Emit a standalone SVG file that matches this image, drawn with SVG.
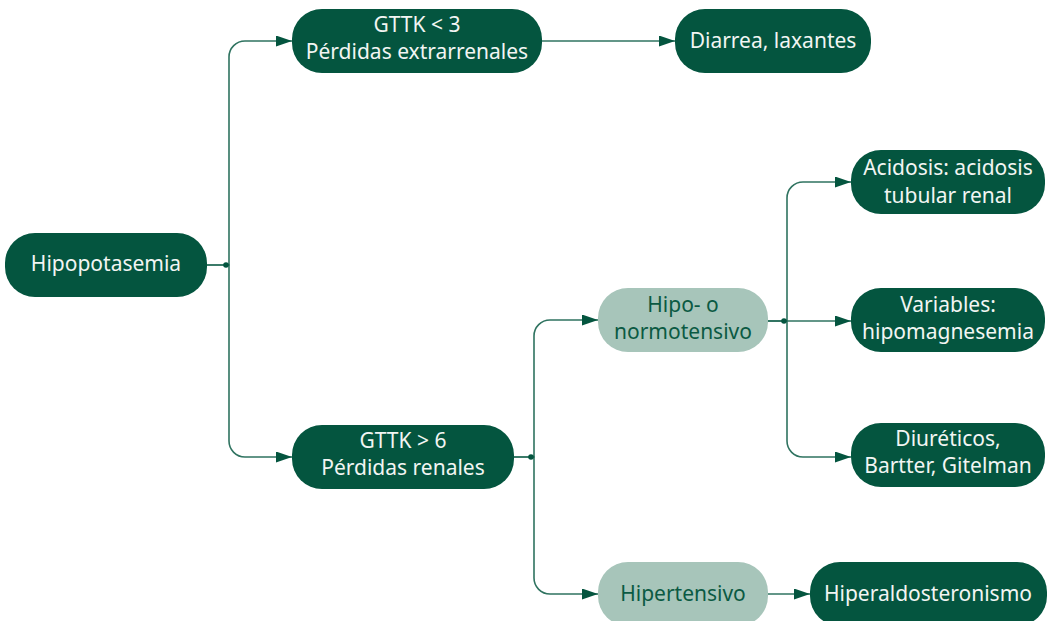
<svg xmlns="http://www.w3.org/2000/svg" width="1049" height="621" viewBox="0 0 1049 621">
  <defs>
    <marker id="arrow" viewBox="0 0 16 11" refX="16" refY="5.5" markerWidth="16" markerHeight="11" markerUnits="userSpaceOnUse" orient="auto">
      <path d="M0,0 L16,5.5 L0,11 z" fill="#04553f"/>
    </marker>
    <style>
      .dark rect { fill: #04553f; }
      .light rect { fill: #a7c5ba; }
      text { font-family: "Noto Sans", "Open Sans", sans-serif; font-size: 21px; text-anchor: middle; }
      .dark text { fill: #f2f5f3; }
      .light text { fill: #0b5a43; }
      .edge { fill: none; stroke: #2f7360; stroke-width: 1.6; }
      .dot { fill: #04553f; }
    </style>
  </defs>

  <rect width="1049" height="621" fill="#ffffff"/>

  <!-- connectors -->
  <g id="connectors">
    <path class="edge" d="M207,265 H229 V57 A16,16 0 0 1 245,41 H292" marker-end="url(#arrow)"/>
    <path class="edge" d="M207,265 H229 V441 A16,16 0 0 0 245,457 H292" marker-end="url(#arrow)"/>
    <circle class="dot" cx="226" cy="265" r="2.8"/>

    <path class="edge" d="M542,41 H675" marker-end="url(#arrow)"/>

    <path class="edge" d="M514,457 H534 V336 A16,16 0 0 1 550,320 H598" marker-end="url(#arrow)"/>
    <path class="edge" d="M514,457 H534 V578 A16,16 0 0 0 550,594 H598" marker-end="url(#arrow)"/>
    <circle class="dot" cx="531" cy="457" r="2.8"/>

    <path class="edge" d="M768,321 H787 V198 A16,16 0 0 1 803,182 H851" marker-end="url(#arrow)"/>
    <path class="edge" d="M768,321 H851" marker-end="url(#arrow)"/>
    <path class="edge" d="M768,321 H787 V441 A16,16 0 0 0 803,457 H851" marker-end="url(#arrow)"/>
    <circle class="dot" cx="784" cy="321" r="2.8"/>

    <path class="edge" d="M768,594 H810" marker-end="url(#arrow)"/>
  </g>

  <!-- nodes -->
  <g id="hipopotasemia" class="dark">
    <rect x="5" y="233" width="202" height="64" rx="30"/>
    <text x="106" y="271">Hipopotasemia</text>
  </g>

  <g id="gttk-menor-3" class="dark">
    <rect x="292" y="9" width="250" height="64" rx="30"/>
    <text x="417" y="32">GTTK &lt; 3</text>
    <text x="417" y="59">Pérdidas extrarrenales</text>
  </g>

  <g id="diarrea" class="dark">
    <rect x="675" y="9" width="196" height="64" rx="30"/>
    <text x="773" y="48">Diarrea, laxantes</text>
  </g>

  <g id="gttk-mayor-6" class="dark">
    <rect x="292" y="425" width="222" height="64" rx="30"/>
    <text x="403" y="448">GTTK &gt; 6</text>
    <text x="403" y="475">Pérdidas renales</text>
  </g>

  <g id="normotensivo" class="light">
    <rect x="598" y="288" width="170" height="64" rx="30"/>
    <text x="683" y="312">Hipo- o</text>
    <text x="683" y="339">normotensivo</text>
  </g>

  <g id="hipertensivo" class="light">
    <rect x="598" y="562" width="170" height="64" rx="30"/>
    <text x="683" y="601">Hipertensivo</text>
  </g>

  <g id="acidosis" class="dark">
    <rect x="851" y="150" width="194" height="64" rx="30"/>
    <text x="948" y="175">Acidosis: acidosis</text>
    <text x="948" y="203">tubular renal</text>
  </g>

  <g id="variables" class="dark">
    <rect x="851" y="288" width="194" height="64" rx="30"/>
    <text x="948" y="312">Variables:</text>
    <text x="948" y="339">hipomagnesemia</text>
  </g>

  <g id="diureticos" class="dark">
    <rect x="851" y="423" width="194" height="64" rx="30"/>
    <text x="948" y="446">Diuréticos,</text>
    <text x="948" y="473">Bartter, Gitelman</text>
  </g>

  <g id="hiperaldosteronismo" class="dark">
    <rect x="810" y="562" width="237" height="64" rx="30"/>
    <text x="928" y="601">Hiperaldosteronismo</text>
  </g>
</svg>
